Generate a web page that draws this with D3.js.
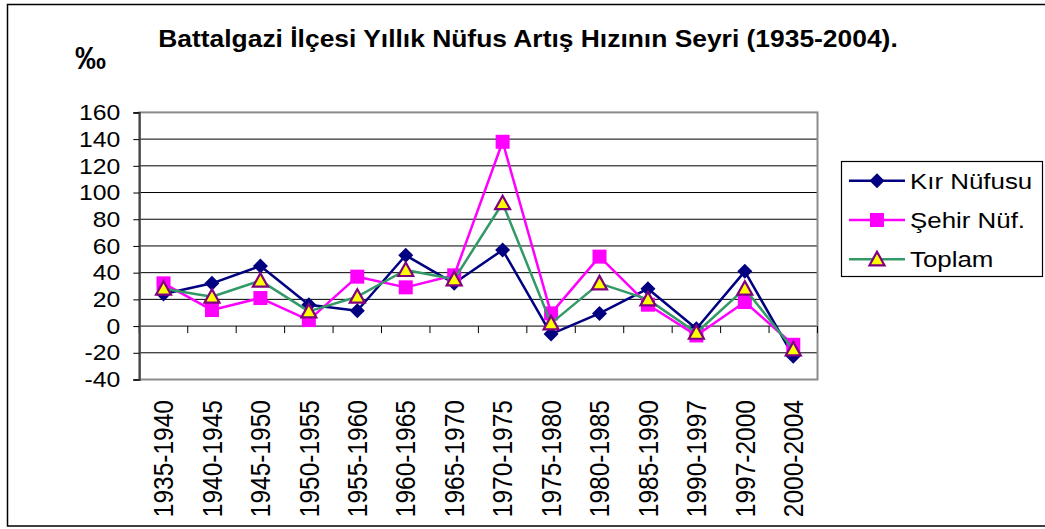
<!DOCTYPE html>
<html>
<head>
<meta charset="utf-8">
<script src="https://cdn.jsdelivr.net/npm/d3@7"></script>
<style>
  body { margin: 0; background: #fff; }
  text { font-family: Arial, "Liberation Sans", sans-serif; fill: #000; }
</style>
</head>
<body>
<script>
// data (per mille)
const periods = ["1935-1940", "1940-1945", "1945-1950", "1950-1955", "1955-1960", "1960-1965", "1965-1970",
                 "1970-1975", "1975-1980", "1980-1985", "1985-1990", "1990-1997", "1997-2000", "2000-2004"];
const kirNufusu = [24, 32, 45, 16, 11.5, 53, 32, 57, -6, 9.5, 28, -2, 41, -22.5];
const sehirNuf = [32, 12, 21, 4.5, 37, 29, 38, 138, 9.5, 52, 16, -7, 18, -14];
const toplam = [28, 22, 34, 11, 22, 42, 35, 92, 2, 32, 20, -5, 28, -17.5];
const yTicks = [-40, -20, 0, 20, 40, 60, 80, 100, 120, 140, 160];
const seriesNames = ["Kır Nüfusu", "Şehir Nüf.", "Toplam"];

const width = 1045, height = 529;
const plot = { left: 139.3, right: 817.5, top: 112.4, bottom: 379.5 };

const svg = d3.select("body").append("svg")
    .attr("width", width)
    .attr("height", height);

// the source image is a bit wider than tall, so texts get a horizontal stretch
function stretch(sel, k) {
  sel.each(function() {
    const len = this.getComputedTextLength();
    d3.select(this).attr("textLength", len * k).attr("lengthAdjust", "spacingAndGlyphs");
  });
}

// outer frame (right edge falls outside the picture)
svg.append("rect")
    .attr("x", 7.5).attr("y", 4.5)
    .attr("width", 1045).attr("height", 521.5)
    .attr("fill", "none")
    .attr("stroke", "#000")
    .attr("stroke-width", 1.5);

let x = d3.scaleBand()
    .domain(periods)
    .range([plot.left, plot.right])
    .padding(0);

let y = d3.scaleLinear()
    .domain([-40, 160])
    .range([plot.bottom, plot.top]);

// gridlines
svg.append("g")
    .selectAll("line")
    .data(yTicks.filter(d => d > -40 && d < 160))
    .enter().append("line")
    .attr("x1", plot.left).attr("x2", plot.right)
    .attr("y1", d => y(d)).attr("y2", d => y(d))
    .attr("stroke", "#000")
    .attr("stroke-width", 1);

// plot area border
svg.append("rect")
    .attr("x", plot.left).attr("y", plot.top)
    .attr("width", plot.right - plot.left)
    .attr("height", plot.bottom - plot.top)
    .attr("fill", "none")
    .attr("stroke", "#8c8c8c")
    .attr("stroke-width", 2);

// category ticks hang below the zero line
svg.append("g")
    .selectAll("line")
    .data(periods.map(p => x(p)).concat([plot.right]))
    .enter().append("line")
    .attr("x1", d => d).attr("x2", d => d)
    .attr("y1", y(0)).attr("y2", y(0) + 7)
    .attr("stroke", "#000")
    .attr("stroke-width", 1);

// y axis (plain hyphen for negatives, like the original)
let yAxis = svg.append("g")
    .attr("transform", `translate(${plot.left},0)`)
    .call(d3.axisLeft(y).tickValues(yTicks).tickSize(6).tickPadding(13).tickFormat(d => String(d)));
yAxis.select(".domain").attr("stroke", "#444").attr("stroke-width", 2);
yAxis.selectAll(".tick line").attr("stroke", "#000");
yAxis.selectAll(".tick text")
    .attr("font-size", 22.5)
    .attr("font-family", "Arial, 'Liberation Sans', sans-serif")
    .attr("fill", "#000")
    .call(stretch, 1.1);

// x labels, rotated
svg.append("g")
    .selectAll("g")
    .data(periods)
    .enter().append("g")
    .attr("transform", d => `translate(${x(d) + x.bandwidth() / 2},400) scale(1.1,1)`)
    .append("text")
    .attr("transform", "rotate(-90)")
    .attr("text-anchor", "end")
    .attr("dy", "0.36em")
    .attr("font-size", 24.5)
    .text(d => d);

// series
const series = [
  { name: seriesNames[0], values: kirNufusu, color: "#000080", marker: "diamond" },
  { name: seriesNames[1], values: sehirNuf, color: "#ff00ff", marker: "square" },
  { name: seriesNames[2], values: toplam, color: "#339966", marker: "triangle" }
];

const markerPath = {
  diamond: "M0,-7.5L7.5,0L0,7.5L-7.5,0Z",
  square: "M-7,-7H7V7H-7Z",
  triangle: "M0,-7.5L7.5,6L-7.5,6Z"
};

function drawMarker(g, s) {
  let p = g.append("path").attr("d", markerPath[s.marker]);
  if (s.marker === "triangle") {
    p.attr("fill", "#ffff00").attr("stroke", "#800080").attr("stroke-width", 2.2);
  } else {
    p.attr("fill", s.color);
  }
}

let line = d3.line()
    .x((d, i) => x(periods[i]) + x.bandwidth() / 2)
    .y(d => y(d));

series.forEach(function(s) {
  svg.append("path")
      .datum(s.values)
      .attr("d", line)
      .attr("fill", "none")
      .attr("stroke", s.color)
      .attr("stroke-width", 2.5)
      .attr("stroke-linejoin", "round");

  svg.append("g")
      .selectAll("g")
      .data(s.values)
      .enter().append("g")
      .attr("transform", (d, i) => `translate(${x(periods[i]) + x.bandwidth() / 2},${y(d)})`)
      .each(function() { drawMarker(d3.select(this), s); });
});

// title and unit
svg.append("text")
    .attr("x", 528)
    .attr("y", 46.5)
    .attr("text-anchor", "middle")
    .attr("font-size", 24)
    .attr("font-weight", "bold")
    .text("Battalgazi İlçesi Yıllık Nüfus Artış Hızının Seyri (1935-2004).")
    .call(stretch, 1.1);

svg.append("text")
    .attr("x", 75)
    .attr("y", 69)
    .attr("font-size", 31)
    .attr("font-weight", "bold")
    .text("‰");

// legend
svg.append("rect")
    .attr("x", 841.5).attr("y", 161.5)
    .attr("width", 201).attr("height", 115)
    .attr("fill", "#fff")
    .attr("stroke", "#000")
    .attr("stroke-width", 1.2);

const legend = svg.selectAll(".legend")
    .data(series)
    .enter().append("g")
    .attr("class", "legend")
    .attr("transform", (d, i) => `translate(0,${180.7 + i * 39.3})`);

legend.append("line")
    .attr("x1", 849).attr("x2", 905)
    .attr("stroke", d => d.color)
    .attr("stroke-width", 2.5);

legend.append("g")
    .attr("transform", "translate(877,0)")
    .each(function(d) { drawMarker(d3.select(this), d); });

legend.append("text")
    .attr("x", 910)
    .attr("y", 7.8)
    .attr("font-size", 22.5)
    .text(d => d.name)
    .call(stretch, 1.15);
</script>
</body>
</html>
